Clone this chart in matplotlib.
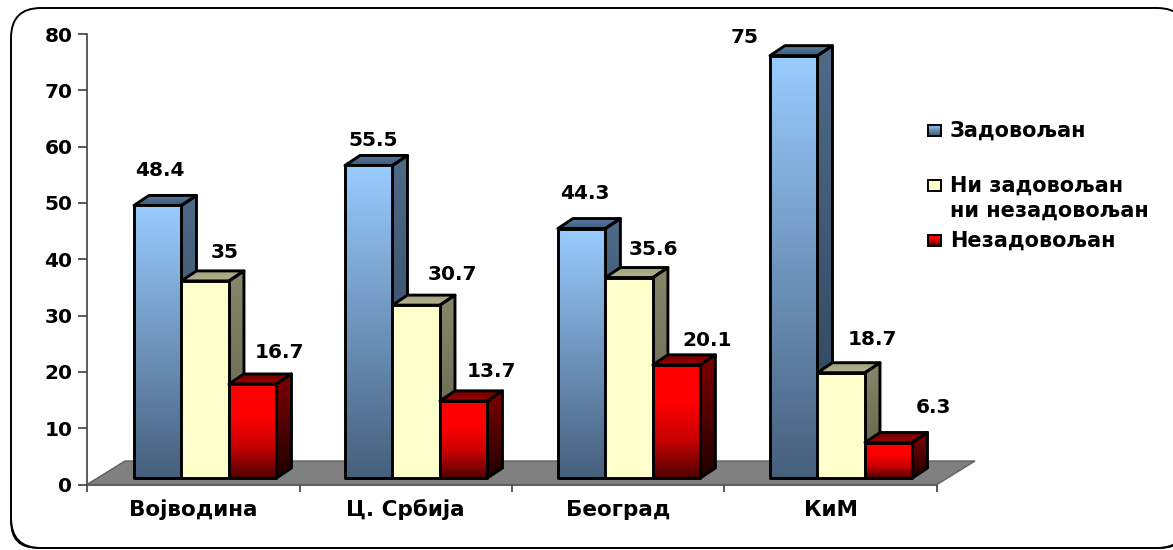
import matplotlib
matplotlib.use("Agg")
import matplotlib.pyplot as plt
import numpy as np
from matplotlib.colors import LinearSegmentedColormap
from matplotlib.patches import Polygon, FancyBboxPatch, Rectangle
from matplotlib.transforms import IdentityTransform

regions = ["Војводина", "Ц. Србија", "Београд", "КиМ"]
satisfied = [48.4, 55.5, 44.3, 75]
neutral = [35, 30.7, 35.6, 18.7]
unsatisfied = [16.7, 13.7, 20.1, 6.3]
series_names = ["Задовољан", "Ни задовољан\nни незадовољан", "Незадовољан"]
y_ticks = [0, 10, 20, 30, 40, 50, 60, 70, 80]

plt.rcParams["font.family"] = ["DejaVu Sans"]
plt.rcParams["font.weight"] = "bold"

W, H = 1173, 550
fig = plt.figure(figsize=(W / 100, H / 100), dpi=100)
ax = fig.add_axes([87 / W, (H - 484.5) / H, 850 / W, 450.5 / H])
ax.set_xlim(0, 4)
ax.set_ylim(0, 80)
ax.patch.set_visible(False)

# rounded frame in pixels, right side runs off the picture
# the black box underneath makes the thick lower corners
shadow = FancyBboxPatch((11, 2), 1176, 100, boxstyle="round,pad=0,rounding_size=26",
                        transform=IdentityTransform(), fc="black", ec="black", lw=1, zorder=-6)
fig.add_artist(shadow)
frame = FancyBboxPatch((11, 2), 1176, 540, boxstyle="round,pad=0,rounding_size=30",
                       transform=IdentityTransform(), fc="white", ec="black", lw=1.4, zorder=-5)
fig.add_artist(frame)

px_x = 4 / 850    # data units per pixel
px_y = 80 / 450.5
bar_w = 47.5 * px_x
depth_x = 15 * px_x
depth_y = 10 * px_y
base = 6.5 * px_y
group_start = [0.221, 1.214, 2.216, 3.214]

# floor
fl_x = 38 * px_x
fl_y = 23.5 * px_y
floor = Polygon([(0, 0), (fl_x, fl_y), (4 + fl_x, fl_y), (4, 0)], closed=True,
                fc="#808080", ec="#606060", lw=1, clip_on=False, zorder=1)
ax.add_patch(floor)


def gradient(verts, stops, z):
    cmap = LinearSegmentedColormap.from_list("g", stops)
    v = np.array(verts)
    img = np.linspace(1, 0, 256).reshape(-1, 1)
    im = ax.imshow(img, cmap=cmap, vmin=0, vmax=1, aspect="auto", zorder=z,
                   extent=[v[:, 0].min(), v[:, 0].max(), v[:, 1].min(), v[:, 1].max()])
    poly = Polygon(verts, closed=True, fc="none", ec="black", lw=2.1, zorder=z + 0.1,
                   joinstyle="round", clip_on=False)
    ax.add_patch(poly)
    im.set_clip_path(poly)


front_blue = ["#465f7c", "#99ccff"]
side_blue = ["#2e4258", "#4f6a88"]
top_blue = ["#3f5a78", "#5a7a9f"]
front_cream = ["#ffffcc", "#ffffcc"]
side_cream = ["#5e5e48", "#87876a"]
top_cream = ["#b5b58f", "#a0a080"]
front_red = ["#500000", "#c80000", "#ff0000", "#ff0000"]
side_red = ["#200000", "#800000"]
top_red = ["#a00000", "#700000"]

styles = [(front_blue, side_blue, top_blue),
          (front_cream, side_cream, top_cream),
          (front_red, side_red, top_red)]

all_series = [satisfied, neutral, unsatisfied]

# pixel nudges of the value labels from the top of each bar's front face
label_offsets = [
    [(2, 35), (4, 25), (3, 35), (-49, 18)],
    [(19, 28), (36, 31), (24, 28), (31, 33)],
    [(27, 31), (28, 29), (30, 24), (45, 35)],
]

for g in range(len(regions)):
    for s, values in enumerate(all_series):
        x0 = group_start[g] + s * bar_w
        x1 = x0 + bar_w
        top = base + values[g]
        front, side, roof = styles[s]
        z = 2 + g * 10 + s * 2
        gradient([(x1, base), (x1 + depth_x, base + depth_y),
                  (x1 + depth_x, top + depth_y), (x1, top)], side, z)
        gradient([(x0, top), (x1, top), (x1 + depth_x, top + depth_y),
                  (x0 + depth_x, top + depth_y)], roof, z)
        gradient([(x0, base), (x1, base), (x1, top), (x0, top)], front, z + 1)
        dx, dy = label_offsets[s][g]
        ax.annotate(str(values[g]), ((x0 + x1) / 2, top), xytext=(dx, dy),
                    textcoords="offset pixels", ha="center", va="center",
                    fontsize=14.5, fontweight="bold", color="black",
                    annotation_clip=False, zorder=100)

ax.set_xlim(0, 4)
ax.set_ylim(0, 80)

# axes
for side_name in ["top", "right"]:
    ax.spines[side_name].set_visible(False)
for side_name in ["left", "bottom"]:
    ax.spines[side_name].set_color("#404040")
    ax.spines[side_name].set_linewidth(1.2)
    ax.spines[side_name].set_zorder(0.5)
ax.set_yticks(y_ticks)
ax.tick_params(axis="y", length=6.5, width=1.2, color="#404040", labelsize=14.5, pad=4)
ax.set_xticks(range(5))
ax.set_xticklabels([])
ax.tick_params(axis="x", which="major", length=5, width=1.2, color="#404040")
ax.set_xticks(np.arange(len(regions)) + 0.5, minor=True)
ax.set_xticklabels(regions, minor=True, fontsize=15.5, va="baseline")
ax.tick_params(axis="x", which="minor", length=0, pad=22.7)

# legend, built by hand so the swatches get the gradient
legend_y = [130, 185, 240]
legend_stops = [front_blue, front_cream, front_red]
legend_ax = fig.add_axes([0, 0, 1, 1])
legend_ax.set_xlim(0, W)
legend_ax.set_ylim(H, 0)
legend_ax.axis("off")
legend_ax.patch.set_visible(False)
for name, ly, stops in zip(series_names, legend_y, legend_stops):
    cmap = LinearSegmentedColormap.from_list("g", stops)
    legend_ax.imshow(np.linspace(1, 0, 64).reshape(-1, 1), cmap=cmap, vmin=0, vmax=1,
                     aspect="auto", extent=[927.5, 941, ly + 5.5, ly - 5.5], zorder=3)
    legend_ax.add_patch(Rectangle((927.5, ly - 5.5), 13.5, 11, fc="none", ec="black", lw=1.4, zorder=4))
    if "\n" in name:
        first, second = name.split("\n")
        legend_ax.text(950, ly + 1, first, fontsize=15, va="center", ha="left")
        legend_ax.text(950, ly + 26, second, fontsize=15, va="center", ha="left")
    else:
        legend_ax.text(950, ly + 1, name, fontsize=15, va="center", ha="left")
legend_ax.set_xlim(0, W)
legend_ax.set_ylim(H, 0)

fig.savefig("out.png", dpi=100)
